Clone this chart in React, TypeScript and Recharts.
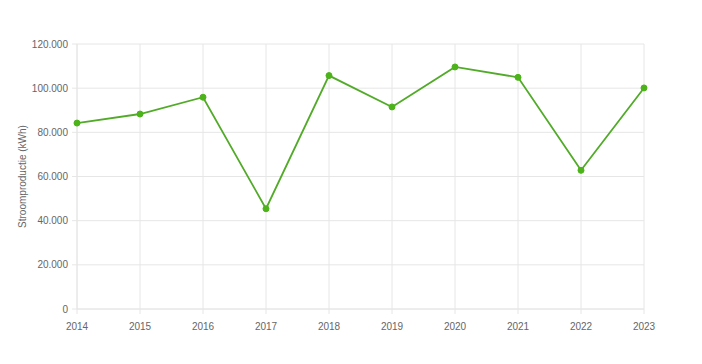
import React from 'react'
import { LineChart, Line, XAxis, YAxis, CartesianGrid, Label } from 'recharts'

const years = ['2014', '2015', '2016', '2017', '2018', '2019', '2020', '2021', '2022', '2023']
const production = [84200, 88300, 95900, 45400, 105700, 91500, 109600, 104900, 62800, 100100]
const yTicks = [0, 20000, 40000, 60000, 80000, 100000, 120000]

const data = years.map((year, i) => ({ year, value: production[i] }))

const formatNumber = (v: number) => v.toLocaleString('nl-NL')

const tickStyle = { fill: '#666', fontSize: 10, fontFamily: 'Liberation Sans, Arial, sans-serif' }

export default function App() {
  return (
    <div style={{ position: 'absolute', left: 0, top: 0, background: '#fff' }}>
      <LineChart width={702} height={364} data={data} margin={{ top: 44, right: 58, bottom: 25, left: 0 }}>
        <CartesianGrid stroke="#e6e6e6" vertical horizontal />
        <XAxis
          dataKey="year"
          tick={tickStyle}
          axisLine={{ stroke: '#e6e6e6' }}
          tickLine={{ stroke: '#e6e6e6' }}
          tickSize={5}
          tickMargin={9}
          height={30}
          interval={0}
        />
        <YAxis
          domain={[0, 120000]}
          ticks={yTicks}
          tickFormatter={formatNumber}
          tick={tickStyle}
          axisLine={{ stroke: '#e6e6e6' }}
          tickLine={{ stroke: '#e6e6e6' }}
          tickSize={5}
          tickMargin={4}
          width={77}
        >
          <Label
            value="Stroomproductie (kWh)"
            angle={-90}
            position="insideLeft"
            offset={22}
            style={{ ...tickStyle, textAnchor: 'middle' }}
          />
        </YAxis>
        <Line
          type="linear"
          dataKey="value"
          stroke="#52ab28"
          strokeWidth={1.8}
          dot={{ r: 3, fill: '#4cb319', stroke: '#4cb319', strokeWidth: 1 }}
          isAnimationActive={false}
        />
      </LineChart>
    </div>
  )
}
